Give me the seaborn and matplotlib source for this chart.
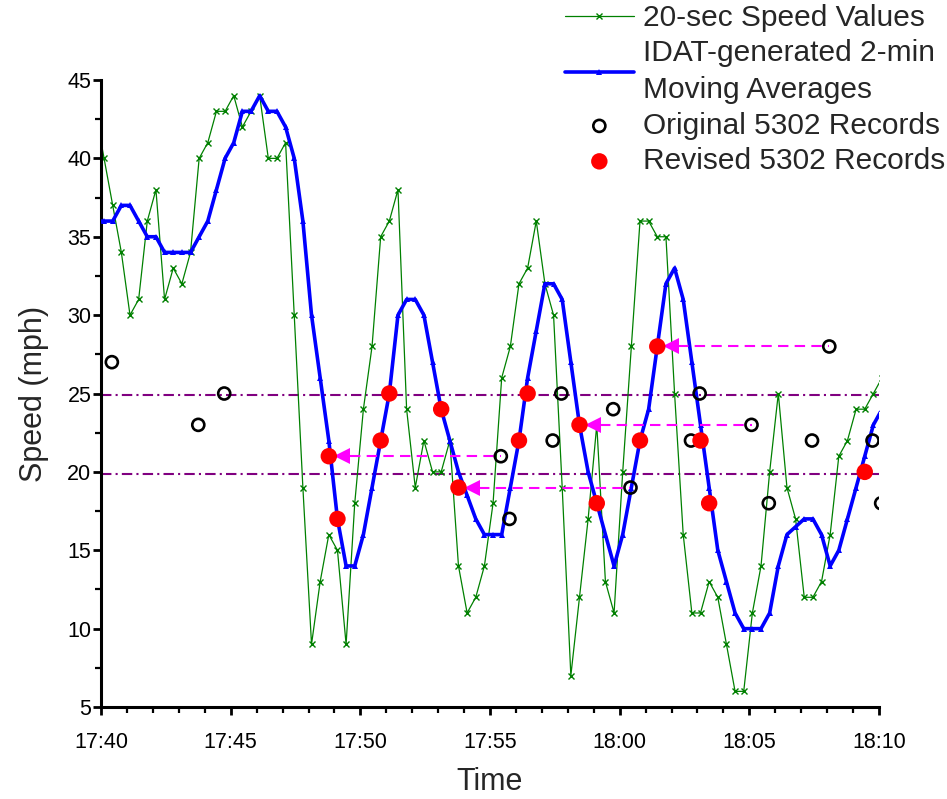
import matplotlib
matplotlib.use('Agg')
import matplotlib.pyplot as plt
import matplotlib.dates as mdates
import seaborn as sns
import pandas as pd

DAY = "2000-01-01 "

# 20-sec detector speeds, grid starts 17:39:47 (first and last point fall outside the axes)
speed_20s = [43, 40, 37, 34, 30, 31, 36, 38, 31, 33,
             32, 34, 40, 41, 43, 43, 44, 42, 43, 44,
             40, 40, 41, 30, 19, 9, 13, 16, 15, 9,
             18, 24, 28, 35, 36, 38, 24, 19, 22, 20,
             20, 22, 14, 11, 12, 14, 18, 26, 28, 32,
             33, 36, 32, 30, 19, 7, 12, 17, 23, 13,
             11, 20, 28, 36, 36, 35, 35, 25, 16, 11,
             11, 13, 12, 9, 6, 6, 11, 14, 20, 25,
             19, 17, 12, 12, 13, 16, 21, 22, 24, 24,
             25, 26]

# IDAT 2-min moving averages on the same grid
speed_2min = [36, 36, 36, 37, 37, 36, 35, 35, 34, 34,
              34, 34, 35, 36, 38, 40, 41, 43, 43, 44,
              43, 43, 42, 40, 36, 30, 26, 22, 17, 14,
              14, 16, 19, 22, 25, 30, 31, 31, 30, 27,
              24, 22, 20, 18.5, 17, 16, 16, 16, 19, 22,
              26, 29, 32, 32, 31, 27, 23, 20, 18, 16,
              14, 16, 19, 22, 24, 28, 32, 33, 31, 27,
              23, 19, 15, 13, 11, 10, 10, 10, 11, 14,
              16, 16.5, 17, 17, 16, 14, 15, 17, 19, 21,
              23, 24]

orig_times = ["17:40:25", "17:43:45", "17:44:45", "17:55:25", "17:55:45", "17:57:25",
              "17:57:45", "17:59:45", "18:00:25", "18:02:45", "18:03:05", "18:05:05",
              "18:05:45", "18:07:25", "18:08:05", "18:09:45", "18:10:05"]
orig_speeds = [27, 23, 25, 21, 17, 22, 25, 24, 19, 22, 25, 23, 18, 22, 28, 22, 18]

rev_times = ["17:48:47", "17:49:07", "17:50:47", "17:51:07", "17:53:07", "17:53:47",
             "17:56:07", "17:56:27", "17:58:27", "17:59:07", "18:00:47", "18:01:27",
             "18:03:07", "18:03:27", "18:09:27"]
rev_speeds = [21, 17, 22, 25, 24, 19, 22, 25, 23, 18, 22, 28, 22, 18, 20]

# shifted records: original time -> revised time
shift_from = ["17:55:25", "18:00:25", "18:05:05", "18:08:05"]
shift_to = ["17:48:47", "17:53:47", "17:58:27", "18:01:27"]
shift_speed = [21, 19, 23, 28]

thresholds = [24.9, 19.85]


def main():
    grid = pd.date_range(DAY + "17:39:47", periods=len(speed_20s), freq="20s")
    df = pd.DataFrame({"time": grid, "raw": speed_20s, "avg": speed_2min})
    orig = pd.DataFrame({"time": pd.to_datetime([DAY + t for t in orig_times]), "speed": orig_speeds})
    rev = pd.DataFrame({"time": pd.to_datetime([DAY + t for t in rev_times]), "speed": rev_speeds})

    sns.set_style("ticks")
    plt.rcParams['font.family'] = ['Liberation Sans', 'DejaVu Sans']

    fig = plt.figure(figsize=(9.47, 7.99), dpi=100)
    ax = fig.add_axes([0.1067, 0.1151, 0.8215, 0.7848])

    for th in thresholds:
        ax.axhline(th, color="#800080", lw=1.5, linestyle=(0, (5, 2, 1, 2)), zorder=1)

    sns.lineplot(data=df, x="time", y="raw", ax=ax, color="#008000", lw=0.9,
                 marker="x", markersize=4.5, markeredgewidth=1.0, markeredgecolor="#008000",
                 label="20-sec Speed Values", zorder=2)
    sns.lineplot(data=df, x="time", y="avg", ax=ax, color="#0000FF", lw=2.6,
                 marker="^", markersize=5, markeredgewidth=0, markerfacecolor="#0000FF",
                 label="IDAT-generated 2-min\nMoving Averages", zorder=3)

    for t0, t1, v in zip(shift_from, shift_to, shift_speed):
        t0 = pd.Timestamp(DAY + t0)
        t1 = pd.Timestamp(DAY + t1)
        ax.plot([t1 + pd.Timedelta(seconds=48), t0], [v, v], color="#FF00FF", lw=1.5,
                dashes=(5, 3), zorder=4)
        ax.plot([t1 + pd.Timedelta(seconds=31)], [v], marker="<", color="#FF00FF",
                markersize=11.5, markeredgewidth=0, zorder=4)

    sns.scatterplot(data=orig, x="time", y="speed", ax=ax, s=75, facecolor="none",
                    edgecolor="black", linewidth=1.9, label="Original 5302 Records", zorder=5)
    sns.scatterplot(data=rev, x="time", y="speed", ax=ax, s=140, color="#FF0000",
                    edgecolor="none", label="Revised 5302 Records", zorder=6)

    ax.set_xlim(pd.Timestamp(DAY + "17:40"), pd.Timestamp(DAY + "18:10"))
    ax.set_ylim(5, 45)
    ax.xaxis.set_major_locator(mdates.MinuteLocator(byminute=range(0, 60, 5)))
    ax.xaxis.set_minor_locator(mdates.MinuteLocator())
    ax.xaxis.set_major_formatter(mdates.DateFormatter("%H:%M"))
    ax.set_yticks(range(5, 46, 5))
    ax.set_yticks([v + 2.5 for v in range(5, 45, 5)], minor=True)

    for side in ["top", "right"]:
        ax.spines[side].set_visible(False)
    for side in ["left", "bottom"]:
        ax.spines[side].set_linewidth(2.2)
        ax.spines[side].set_color("black")
    ax.tick_params(which="major", direction="out", length=6, width=2, labelsize=15.5,
                   colors="black")
    ax.tick_params(which="minor", direction="out", length=4, width=1.6, colors="black")
    ax.tick_params(axis="x", which="major", pad=12)
    ax.tick_params(axis="y", which="major", pad=1)

    ax.set_xlabel("Time", fontsize=22, labelpad=10)
    ax.set_ylabel("Speed (mph)", fontsize=22, labelpad=13)

    handles, labels = ax.get_legend_handles_labels()
    leg = ax.legend(handles, labels, loc="upper left", bbox_to_anchor=(565 / 947, 1 - 4 / 799),
                    bbox_transform=fig.transFigure, frameon=False, fontsize=21.5,
                    handlelength=2.3, handletextpad=0.3, labelspacing=0.25,
                    borderpad=0, borderaxespad=0)
    for t in leg.get_texts():
        t.set_linespacing(1.4)

    fig.savefig("out.png", dpi=100)


if __name__ == "__main__":
    main()
